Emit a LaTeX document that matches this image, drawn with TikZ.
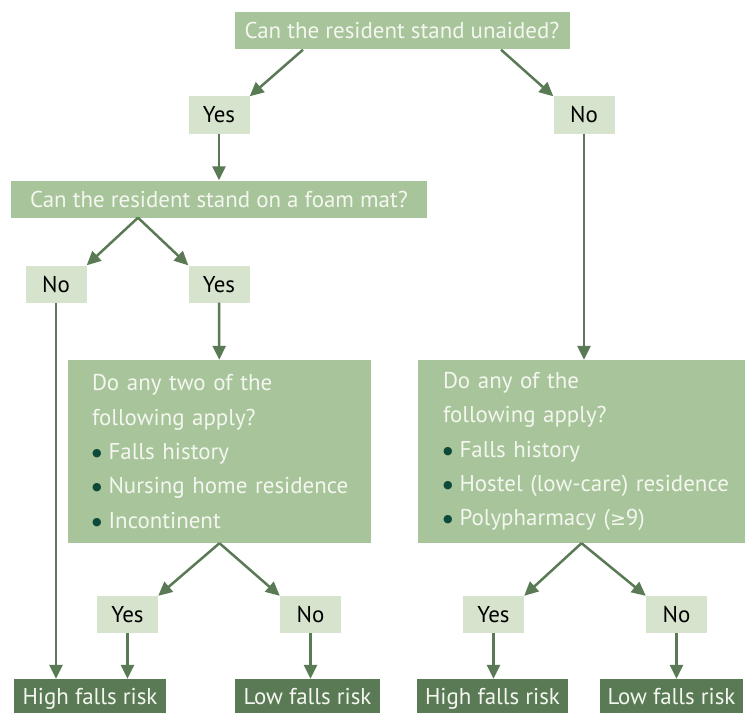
\documentclass[tikz,border=0pt]{standalone}
\usepackage{fontspec}
\setmainfont{PT Sans}
\newfontfamily\dotfont{DejaVu Sans}
\usetikzlibrary{arrows.meta,positioning}
\definecolor{midgreen}{HTML}{A8C49A}
\definecolor{palegreen}{HTML}{D6E3CD}
\definecolor{darkgreen}{HTML}{5A7A55}
\definecolor{dotgreen}{HTML}{0E4A3A}
\definecolor{paletext}{HTML}{F4F7F0}
\newcommand{\bul}{\raisebox{3bp}{\dotfont\fontsize{11}{11}\selectfont\textcolor{dotgreen}{●}}\hspace{7bp}}

\begin{document}
\begin{tikzpicture}[
x=1bp, y=-1bp,
every node/.style={font=\fontsize{23}{34.5}\selectfont, inner sep=0pt},
question/.style={fill=midgreen, text=paletext, minimum height=37bp, text height=19bp, text depth=3bp},
checklist/.style={fill=midgreen, text=paletext, align=left, minimum height=183bp},
answer/.style={fill=palegreen, text=black, minimum width=61bp, minimum height=37bp, text height=19bp, text depth=3bp},
outcome/.style={fill=darkgreen, text=paletext, minimum height=34bp, text height=19bp, text depth=3bp},
arrow/.style={-{Triangle[length=14bp,width=13bp]}, line width=2.5bp, draw=darkgreen}
]
\useasboundingbox (0,0) rectangle (745,713);

% First question
\node[question, minimum width=335bp] (stand) at (402,31) {Can the resident stand unaided?};
\node[answer] (yes1) at (219,115) {Yes};
\node[answer] (no1) at (584,115) {No};

% Foam mat question
\node[question, minimum width=416bp] (foam) at (219,199) {Can the resident stand on a foam mat?};
\node[answer] (no2) at (56,284) {No};
\node[answer] (yes2) at (219,284) {Yes};

% Checklists
\node[checklist, minimum width=303bp, text width=255bp] (two) at (219.5,451.5) {Do any two of the\\ following apply?\\ \mbox{\bul Falls history}\\ \mbox{\bul Nursing home residence}\\ \mbox{\bul Incontinent}};
\node[checklist, minimum width=327bp, text width=277bp] (any) at (581.5,451.5) {Do any of the\\ following apply?\\ \mbox{\bul Falls history}\\ \mbox{\bul Hostel (low-care) residence}\\ \mbox{\bul Polypharmacy ({\dotfont\fontsize{19}{19}\selectfont ≥}9)}};

% Answers to checklists
\node[answer] (yes3) at (127.5,614.5) {Yes};
\node[answer] (no3) at (310.5,614.5) {No};
\node[answer] (yes4) at (493.5,614.5) {Yes};
\node[answer] (no4) at (676.5,614.5) {No};

% Outcomes
\node[outcome, minimum width=152bp] (high1) at (90,696) {High falls risk};
\node[outcome, minimum width=145bp] (low1) at (307.5,696) {Low falls risk};
\node[outcome, minimum width=151bp] (high2) at (492.5,696) {High falls risk};
\node[outcome, minimum width=143bp] (low2) at (671.5,696) {Low falls risk};

% Arrows
\draw[arrow] ([xshift=-99bp]stand.south) -- (yes1.north east);
\draw[arrow] ([xshift=99bp]stand.south) -- (no1.north west);
\draw[arrow] (yes1) -- (foam);
\draw[arrow] (no1.south) -- (no1.south |- any.north);
\draw[arrow] ([xshift=-81bp]foam.south) -- (no2.north east);
\draw[arrow] ([xshift=-81bp]foam.south) -- (yes2.north west);
\draw[arrow] (yes2) -- (two);
\draw[arrow] (no2.south) -- (no2.south |- high1.north);
\draw[arrow] (two.south) -- (yes3.north east);
\draw[arrow] (two.south) -- (no3.north west);
\draw[arrow] (any.south) -- (yes4.north east);
\draw[arrow] (any.south) -- (no4.north west);
\draw[arrow] (yes3.south) -- (yes3.south |- high1.north);
\draw[arrow] (no3.south) -- (no3.south |- low1.north);
\draw[arrow] (yes4.south) -- (yes4.south |- high2.north);
\draw[arrow] (no4.south) -- (no4.south |- low2.north);

\end{tikzpicture}
\end{document}
